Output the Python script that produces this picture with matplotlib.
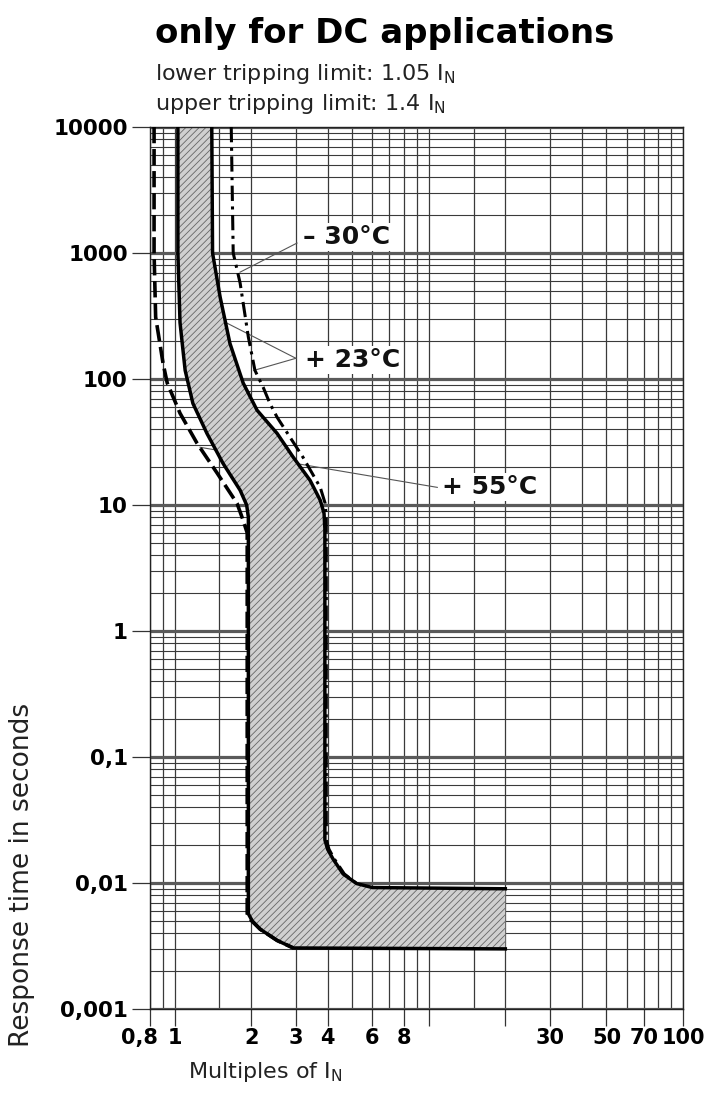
import matplotlib
matplotlib.use('Agg')
import matplotlib.pyplot as plt
import matplotlib.transforms as mtransforms
from matplotlib.ticker import FixedLocator, FixedFormatter, NullFormatter

plt.rcParams['font.family'] = ['DejaVu Sans']
plt.rcParams['hatch.linewidth'] = 0.6
plt.rcParams['mathtext.default'] = 'regular'

# ---- data ----
# +23 °C lower limit (solid)
lower23_x = [1.03, 1.03, 1.05, 1.10, 1.18, 1.34, 1.55, 1.81, 1.92, 1.95, 1.95, 2.02, 2.17, 2.53, 2.93, 20]
lower23_y = [10000, 1000, 280, 117, 64, 37, 21.4, 13.1, 10.0, 8.0, 0.0057, 0.0050, 0.0043, 0.0035, 0.00305, 0.0030]
# +23 °C upper limit (solid)
upper23_x = [1.40, 1.41, 1.51, 1.65, 1.86, 2.11, 2.53, 2.93, 3.41, 3.74, 3.87, 3.90, 3.90, 4.0, 4.2, 4.6, 5.2, 6.0, 20]
upper23_y = [10000, 1000, 447, 192, 93, 56.5, 37, 23.9, 15.7, 10.9, 8.6, 6.5, 0.022, 0.0185, 0.0155, 0.0118, 0.0099, 0.0092, 0.0090]
# -30 °C (dash-dot)
minus30_x = [1.67, 1.70, 1.81, 1.95, 2.07, 2.23, 2.37, 2.53, 3.20, 3.74, 3.91, 3.95, 3.95, 4.05, 4.25, 4.65, 5.2]
minus30_y = [10000, 1000, 577, 215, 117, 86, 64, 49.7, 23.9, 13.8, 10.3, 8.0, 0.022, 0.0185, 0.0155, 0.0118, 0.0099]
# +55 °C (dashed)
plus55_x = [0.83, 0.83, 0.842, 0.90, 0.935, 1.05, 1.225, 1.47, 1.76, 1.86, 1.93, 1.93, 2.01, 2.17, 2.53, 2.93]
plus55_y = [10000, 1000, 310, 134, 93, 53.5, 30.9, 17.9, 10.3, 7.56, 6.0, 0.0057, 0.0050, 0.0043, 0.0035, 0.00305]

x_major = [0.8, 1, 2, 3, 4, 6, 8, 10, 20, 30, 50, 70, 100]
x_major_labels = ['0,8', '1', '2', '3', '4', '6', '8', '', '', '30', '50', '70', '100']
x_minor = [0.9, 1.5, 5, 7, 9, 15, 40, 60, 80, 90]
y_major = [0.001, 0.01, 0.1, 1, 10, 100, 1000, 10000]
y_major_labels = ['0,001', '0,01', '0,1', '1', '10', '100', '1000', '10000']
y_minor = [m * 10.0 ** e for e in range(-3, 4) for m in range(2, 10)]

labels = ['– 30°C', '+ 23°C', '+ 55°C']
label_pos = [(3.2, 1330), (3.27, 141), (11.3, 13.8)]
leaders = [((3.03, 1199), (1.81, 705)),
           ((3.0, 146), (1.61, 277)),
           ((3.0, 146), (2.05, 117)),
           ((10.8, 13.8), (1.26, 28.7))]

# ---- figure ----
W, H = 717, 1097
fig = plt.figure(figsize=(W / 100, H / 100), dpi=100)
ax = fig.add_axes([150 / W, 1 - 1009 / H, 533 / W, 882 / H])
ax.set_xscale('log')
ax.set_yscale('log')
ax.set_xlim(0.8, 100)
ax.set_ylim(0.001, 10000)

ax.xaxis.set_major_locator(FixedLocator(x_major))
ax.xaxis.set_major_formatter(FixedFormatter(x_major_labels))
ax.xaxis.set_minor_locator(FixedLocator(x_minor))
ax.xaxis.set_minor_formatter(NullFormatter())
ax.yaxis.set_major_locator(FixedLocator(y_major))
ax.yaxis.set_major_formatter(FixedFormatter(y_major_labels))
ax.yaxis.set_minor_locator(FixedLocator(y_minor))
ax.yaxis.set_minor_formatter(NullFormatter())

ax.grid(which='both', axis='x', color='#3a3a3a', lw=0.9)
ax.grid(which='minor', axis='y', color='#3a3a3a', lw=0.8)
ax.grid(which='major', axis='y', color='#5a5a5a', lw=2.3)
ax.set_axisbelow(True)

ax.tick_params(axis='x', which='major', length=12, width=0.9, pad=2, direction='out',
               labelsize=15, color='#333')
ax.tick_params(axis='y', which='major', length=13, width=0.9, pad=3, direction='out',
               labelsize=15.5, color='#333')
ax.tick_params(which='minor', length=0)
for lab in ax.get_xticklabels() + ax.get_yticklabels():
    lab.set_fontweight('bold')
# the "0,8" label sits a little left of its tick in the reference
first = ax.xaxis.get_major_ticks()[0].label1
first.set_transform(first.get_transform() +
                    mtransforms.ScaledTranslation(-11 / 100, 0, fig.dpi_scale_trans))
for sp in ax.spines.values():
    sp.set_color('#222')
    sp.set_linewidth(1.0)

# shaded band between +23 °C limits
poly_x = lower23_x + upper23_x[::-1]
poly_y = lower23_y + upper23_y[::-1]
ax.fill(poly_x, poly_y, facecolor='#d0d0d0', edgecolor='#666666', hatch='/////',
        linewidth=0, zorder=2)

# leader lines
for (x0, y0), (x1, y1) in leaders:
    ax.plot([x0, x1], [y0, y1], color='#555', lw=0.8, zorder=1.5)

# curves
ax.plot(lower23_x, lower23_y, color='k', lw=2.5, zorder=3)
ax.plot(upper23_x, upper23_y, color='k', lw=2.5, zorder=3)
ax.plot(plus55_x, plus55_y, color='k', lw=2.6, linestyle=(0, (4.5, 1.6)), zorder=3)
ax.plot(minus30_x, minus30_y, color='k', lw=2.2, linestyle=(0, (5, 1.8, 1, 1.8)), zorder=3)

for txt, (tx, ty) in zip(labels, label_pos):
    ax.text(tx, ty, txt, fontsize=18, fontweight='bold', ha='left', va='center',
            color='#111', zorder=4,
            bbox=dict(facecolor='white', edgecolor='none', pad=1.5))

# titles and axis labels
fig.text(155 / W, 1 - 43 / H, 'only for DC applications', fontsize=24.5,
         fontweight='bold', ha='left', va='baseline')
fig.text(155 / W, 1 - 80 / H, 'lower tripping limit: 1.05 I$_{N}$', fontsize=16,
         ha='left', va='baseline', color='#222')
fig.text(155 / W, 1 - 110 / H, 'upper tripping limit: 1.4 I$_{N}$', fontsize=16,
         ha='left', va='baseline', color='#222')
fig.text(188 / W, 1 - 1078 / H, 'Multiples of I$_{N}$', fontsize=16,
         ha='left', va='baseline', color='#222')
fig.text(22 / W, 1 - 875 / H, 'Response time in seconds', rotation=90, fontsize=19,
         ha='center', va='center', color='#222')

fig.savefig('out.png', dpi=100)
